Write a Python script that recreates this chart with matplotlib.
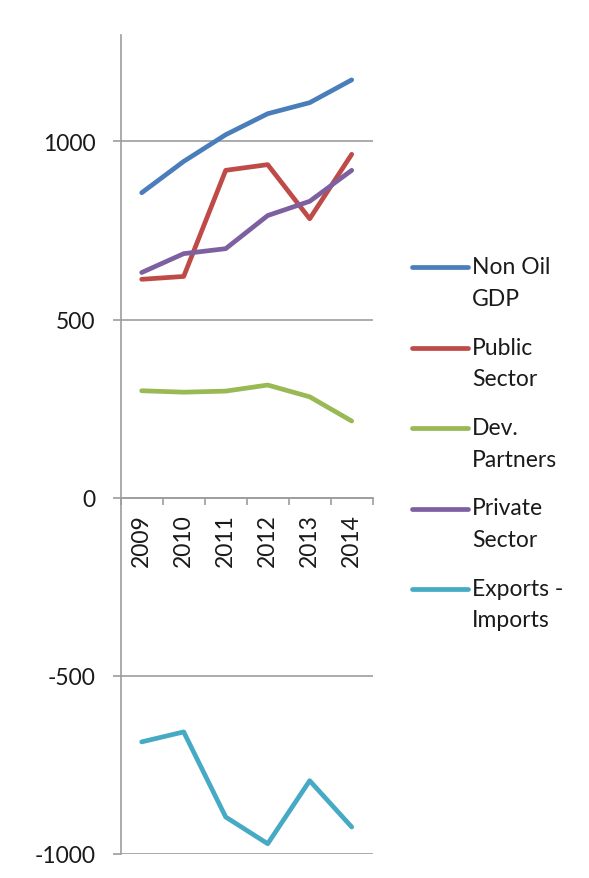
import numpy as np
import matplotlib
matplotlib.use('Agg')
import matplotlib.pyplot as plt
from matplotlib.lines import Line2D

plt.rcParams['font.family'] = ['Lato', 'DejaVu Sans']

# data
years = ['2009', '2010', '2011', '2012', '2013', '2014']
non_oil_gdp = [856, 944, 1019, 1078, 1109, 1173]
public_sector = [613, 621, 919, 935, 783, 964]
dev_partners = [300, 296, 299, 316, 283, 215]
private_sector = [632, 685, 699, 792, 832, 919]
exports_imports = [-686, -658, -897, -972, -795, -925]

names = ['Non Oil\nGDP', 'Public\nSector', 'Dev.\nPartners', 'Private\nSector', 'Exports -\nImports']
colors = ['#4A7EBB', '#BE4B48', '#98B954', '#7D60A0', '#46AAC5']
series = [non_oil_gdp, public_sector, dev_partners, private_sector, exports_imports]

W, H = 589, 879
fs = 16.5
txt = '#1a1a1a'
grey = '#9D9D9D'

fig = plt.figure(figsize=(W / 100, H / 100), dpi=100)
ax = fig.add_axes([120.7 / W, (H - 854.7) / H, 252 / W, (854.7 - 36) / H])

# spines first: moving a spine resets the ticks
for s in ['top', 'right']:
    ax.spines[s].set_visible(False)
ax.spines['bottom'].set_position(('data', 0))
for s in ['bottom', 'left']:
    ax.spines[s].set_color(grey)
    ax.spines[s].set_linewidth(1.2)

x = np.arange(len(years)) + 0.5
for vals, c, n in zip(series, colors, names):
    ax.plot(x, vals, color=c, lw=3.4, solid_capstyle='round', solid_joinstyle='round', label=n)

ax.set_xlim(0, len(years))
ax.set_ylim(-1000, 1299)
ax.set_yticks([-1000, -500, 0, 500, 1000])
ax.set_yticklabels(['-1000', '-500', '0', '500', '1000'])
ax.yaxis.grid(True, color=grey, lw=1.2)
ax.set_axisbelow(True)

# category boundaries as ticks, labels at centres
ax.set_xticks(np.arange(len(years) + 1))
ax.set_xticklabels([])
ax.set_xticks(x, minor=True)
ax.set_xticklabels(years, minor=True, rotation=90, fontsize=fs, color=txt)
ax.tick_params(axis='x', which='major', length=5, width=1.2, color=grey, direction='out')
ax.tick_params(axis='x', which='minor', length=0, pad=11)
ax.tick_params(axis='y', length=6, width=1.2, color=grey, pad=12, labelsize=fs, labelcolor=txt)

# legend on the right, handle level with the first line of each label
y0 = 268.3
for i, (c, n) in enumerate(zip(colors, names)):
    yy = y0 + i * 80.4
    fig.add_artist(Line2D([412 / W, 468 / W], [1 - yy / H, 1 - yy / H], color=c, lw=3.4,
                          solid_capstyle='round', transform=fig.transFigure))
    fig.text(472 / W, 1 - (yy - 11) / H, n, fontsize=fs, color=txt,
             va='top', ha='left', linespacing=1.62)

fig.savefig('out.png', dpi=100)
